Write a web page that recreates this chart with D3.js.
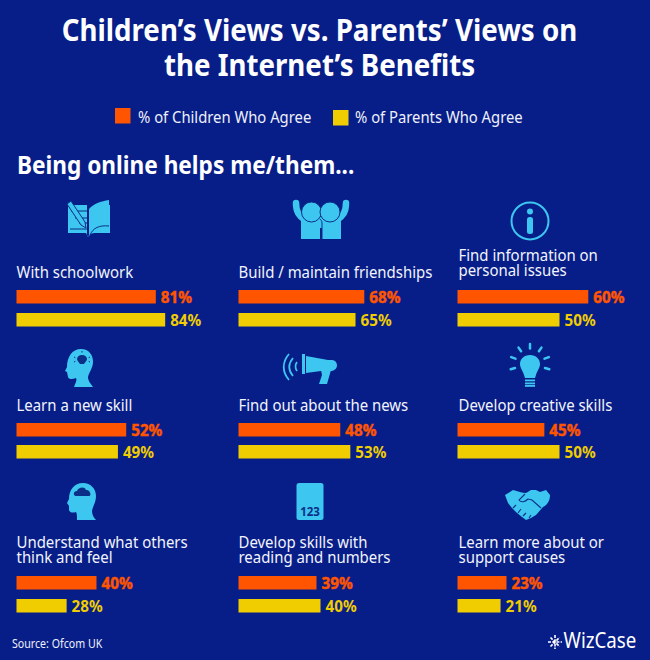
<!DOCTYPE html>
<html><head><meta charset="utf-8">
<script src="https://cdn.jsdelivr.net/npm/d3@7"></script>
<style>html,body{margin:0;padding:0;background:#071e88}svg{display:block}</style>
</head><body><svg id="c" width="650" height="660"></svg>
<script>
const categories=[["With schoolwork"],["Build / maintain friendships"],["Find information on","personal issues"],
["Learn a new skill"],["Find out about the news"],["Develop creative skills"],
["Understand what others","think and feel"],["Develop skills with","reading and numbers"],["Learn more about or","support causes"]];
const childrenAgree=[81,68,60,52,48,45,40,39,23];
const parentsAgree=[84,65,50,49,53,50,28,40,21];
const seriesNames=["% of Children Who Agree","% of Parents Who Agree"];
const titleLines=["Children’s Views vs. Parents’ Views on","the Internet’s Benefits"];
const subtitle="Being online helps me/them...";
const source="Source: Ofcom UK";
const brand="WizCase";

// layout
const BG="#071e88",OR="#ff5500",YE="#f0cd00",IC="#3cc6f0",DK="#0b2f86";
const FONT="'Noto Sans',sans-serif";
const colX=[16.5,238.5,457.5];
const childY=[290,423,576],parentY=[313,445,599];
const labelY=[[277.7],[277.7],[260.7,275.7],[410.7],[410.7],[410.7],[547.7,562.7],[547.7,562.7],[547.7,562.7]];
const labelX=[16.5,238.5,458.5];
const childFull=[172,185,218,211,212,193,200,200,213];
const parentFull=[177,180,204,207,211,204,179,205,205];
const iconAt=[[89,218],[321,220],[530,221],[80,368],[310,367],[530,369],[82,502],[310,502],[528,505]];
const svg=d3.select("#c");
svg.append("rect").attr("width",650).attr("height",660).attr("fill",BG);

function txt(p,s,x,y,o){
  const t=p.append("text").attr("x",x).attr("y",y).attr("font-family",FONT)
    .attr("font-size",o.size).attr("font-weight",o.weight||400).attr("fill",o.fill||"#fff")
    .attr("text-anchor",o.anchor||"start").text(s);
  if(o.stroke) t.attr("stroke",o.stroke).attr("stroke-width",o.sw);
  const k=o.k||1;
  if(k!==1){t.attr("textLength",t.node().getComputedTextLength()*k).attr("lengthAdjust","spacingAndGlyphs");}
  return t;
}
titleLines.forEach((l,i)=>txt(svg,l,319.5,[41,76][i],{size:30,weight:700,anchor:"middle",k:0.923}));
txt(svg,subtitle,17,174,{size:25,weight:700,k:0.905});
// legend
const legX=[115,333],legTX=[138,355],legY=[108,110];
seriesNames.forEach((n,i)=>{
  svg.append("rect").attr("x",legX[i]).attr("y",legY[i]).attr("width",15.5).attr("height",15.5).attr("fill",[OR,YE][i]);
  txt(svg,n,legTX[i],123,{size:16.5,fill:"#eef0fa",k:0.897});
});
// panels
categories.forEach((lines,i)=>{
  const r=Math.floor(i/3),c=i%3;
  const g=svg.append("g");
  lines.forEach((l,j)=>txt(g,l,labelX[c],labelY[i][j],{size:16.5,fill:"#f2f4fc",k:0.905}));
  [[childrenAgree[i],childFull[i],childY[r],OR],[parentsAgree[i],parentFull[i],parentY[r],YE]].forEach(([v,full,y,col])=>{
    const xs=d3.scaleLinear().domain([0,100]).range([colX[c],colX[c]+full]);
    g.append("rect").attr("x",xs(0)).attr("y",y).attr("width",xs(v)-xs(0)).attr("height",13.5).attr("fill",col);
    txt(g,v+"%",xs(v)+5,y+12.5,{size:16,weight:700,fill:col,k:0.95,stroke:col===OR?col:null,sw:0.5});
  });
});
// icons (local coordinates around each icon centre)
const icons=[
 g=>{ // book
  g.append("path").attr("fill",IC).attr("d","M-21,-13H-2V18L-1,19L0,17V-9C4,-14 12,-17 20,-18V-13H21V15H6C3,15 1,16 0,18L-1,19L-3,15H-21Z");
  g.append("path").attr("fill","none").attr("stroke",DK).attr("stroke-width",1).attr("d","M1,17C4,10 10,7 20,8M-18,-7H-2M-14,0H-2M-19,11H-2M-10,5H-2");
  g.append("path").attr("fill",IC).attr("stroke",DK).attr("stroke-width",1).attr("d","M-22,-14L-18,-17L-4,4L-3,10L-8,7Z");
 },
 g=>{ // friends
  g.append("path").attr("fill",IC).attr("d","M-20,-3H20V19H1V8H-1V19H-20Z");
  g.append("path").attr("fill","none").attr("stroke",IC).attr("stroke-width",6.5).attr("stroke-linecap","round").attr("d","M-25,-17C-25,-8 -22,-4 -16,0M25,-17C25,-8 22,-4 16,0");
  g.append("path").attr("fill","none").attr("stroke",DK).attr("stroke-width",1).attr("d","M1,19V3C1,1 0,0 -1,-1");
  g.append("circle").attr("cx",-9.5).attr("cy",-8).attr("r",10).attr("fill",IC).attr("stroke",DK).attr("stroke-width",1);
  g.append("circle").attr("cx",9).attr("cy",-8).attr("r",10).attr("fill",IC).attr("stroke",DK).attr("stroke-width",1);
 },
 g=>{ // info
  g.append("circle").attr("r",18.5).attr("fill","none").attr("stroke",IC).attr("stroke-width",2);
  g.append("circle").attr("cy",-9.5).attr("r",3).attr("fill",IC);
  g.append("rect").attr("x",-3).attr("y",-4).attr("width",6).attr("height",17).attr("rx",2.5).attr("fill",IC);
 },
 g=>{ // head with bulb
  const head="M-6,19C-4,14 -3,12 -4,10C-7,11 -11,12 -12,9L-13,4L-15,3L-13,-1C-13,-11 -8,-19 1,-19C9,-19 13,-13 13,-6C13,0 9,4 8,9C8,13 11,16 13,19Z";
  g.append("path").attr("fill",IC).attr("d",head);
  g.append("path").attr("fill",DK).attr("d","M2,-13C-1,-13 -3,-11 -3,-9C-3,-7 -1,-6 0,-4H4C5,-6 7,-7 7,-9C7,-11 5,-13 2,-13Z");
  g.append("path").attr("fill","none").attr("stroke",DK).attr("stroke-width",1).attr("stroke-dasharray","1.5 1.5").attr("d","M-6,-11L-4,-10M10,-11L8,-10M2,-17V-15M-6,-6L-4,-7M10,-6L8,-7");
 },
 g=>{ // megaphone
  g.append("rect").attr("x",-8).attr("y",-13).attr("width",3).attr("height",20).attr("fill",IC);
  g.append("path").attr("fill",IC).attr("d","M-4,-11L18,-7H22C26,-7 27,-3 27,-2C27,2 24,4 20,4L11,4L-4,6Z");
  g.append("path").attr("fill",IC).attr("d","M11,3L21,3L17,17H9L12,8Z");
  g.append("path").attr("fill","none").attr("stroke",IC).attr("stroke-width",1.8).attr("d","M-17,-9C-22,-3 -22,3 -17,9M-21,-13C-28,-5 -28,5 -21,13M-13,-5C-15,-2 -15,1 -13,4");
 },
 g=>{ // light bulb
  g.append("path").attr("fill",IC).attr("d","M0,-14C6,-14 10,-10 10,-5C10,-1 7,2 6,6L5,9H-5L-6,6C-7,2 -10,-1 -10,-5C-10,-10 -6,-14 0,-14Z");
  g.selectAll("rect.b").data([10.5,13.5,16]).enter().append("rect").attr("x",-5).attr("y",d=>d).attr("width",10).attr("height",1.8).attr("fill",IC);
  g.selectAll("line").data([-90,-55,-125,-20,-160,15,165]).enter().append("line")
   .attr("x1",d=>15.5*Math.cos(d*Math.PI/180)).attr("y1",d=>-5+15.5*Math.sin(d*Math.PI/180))
   .attr("x2",d=>20*Math.cos(d*Math.PI/180)).attr("y2",d=>-5+20*Math.sin(d*Math.PI/180))
   .attr("stroke",IC).attr("stroke-width",2.5).attr("stroke-linecap","round");
 },
 g=>{ // head with cloud
  g.append("path").attr("fill",IC).attr("d","M-5,18C-5,14 -5,12 -6,10C-9,11 -12,11 -13,8L-13,4L-15,1L-13,-3C-13,-12 -8,-19 1,-19C9,-19 14,-13 14,-6C14,0 11,4 10,9C10,13 12,16 14,18Z");
  g.append("path").attr("fill",DK).attr("d","M-6,-6C-9,-6 -9,-11 -5,-11C-4,-15 3,-16 4,-12C8,-13 10,-6 7,-6Z");
 },
 g=>{ // tablet
  g.append("rect").attr("x",-13.5).attr("y",-19).attr("width",27).attr("height",37).attr("rx",2.5).attr("fill",IC);
  txt(g,"123",0,14,{size:11.5,weight:700,fill:DK,anchor:"middle"});
 },
 g=>{ // handshake
  g.append("path").attr("fill",IC).attr("d","M-23,-10L-15,-15C-10,-14 -6,-12 -2,-12L3,-15H8L12,-13L18,-15L22,-10C22,-4 19,0 15,2L8,10L3,13L-2,15L-6,12L-11,8L-16,3L-20,-2Z");
  g.append("path").attr("fill","none").attr("stroke",DK).attr("stroke-width",1.1).attr("d","M-3,-11L-9,-5C-7,-2 -3,-3 0,-6L4,-5L13,3M-15,3L-12,0M-10,8L-7,4M-5,11L-2,8M1,13L3,10");
 }];
icons.forEach((f,i)=>f(svg.append("g").attr("transform",`translate(${iconAt[i]})`)));
// footer
txt(svg,source,12,648,{size:12.5,fill:"#eef0fa",k:0.85});
txt(svg,brand,563.5,648,{size:21,fill:"#fff",k:0.89});
const logo=svg.append("g").attr("transform","translate(555,642)");
logo.append("path").attr("fill","none").attr("stroke","#fff").attr("stroke-width",1.6).attr("stroke-dasharray","3 1.2")
 .attr("d","M0,-7V7M-7,0H7M-4.5,-4.5L4.5,4.5M-4.5,4.5L4.5,-4.5");
</script></body></html>
